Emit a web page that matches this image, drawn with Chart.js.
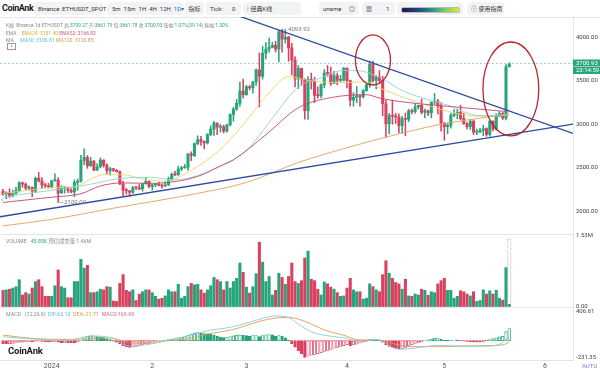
<!DOCTYPE html>
<html lang="zh">
<head>
<meta charset="UTF-8">
<title>ETHUSDT 1D</title>
<script src="https://cdn.jsdelivr.net/npm/chart.js@4"></script>
<style>
  body { margin:0; width:600px; height:373px; overflow:hidden; background:#fff; position:relative;
         font-family: Roboto, "Noto Sans CJK SC", sans-serif; color:#333; }
  .abs { position:absolute; white-space:nowrap; }
  .pill { position:absolute; top:2px; height:13px; background:#f2f3f5; border-radius:3px;
          font-size:6px; line-height:13px; color:#333; white-space:nowrap; }
  .lg { position:absolute; left:6px; font-size:6px; line-height:7px; color:#888; white-space:nowrap;
        transform-origin:0 50%; }
  .sep { position:absolute; left:0; width:600px; height:1px; background:#e6e6e6; }
  canvas { position:absolute; left:0; }
</style>
</head>
<body>

<!-- toolbar -->
<div class="abs" style="left:2px;top:2px;font-size:9px;font-weight:700;line-height:12px;color:#1b1b1b;letter-spacing:-0.4px">CoinAnk</div>
<div class="pill" style="left:34px;width:69px;padding-left:4px;box-sizing:border-box">Binance :ETHUSDT_SPOT</div>
<div class="pill" style="left:107px;width:76px;padding-left:5px;box-sizing:border-box">5m&nbsp; 15m&nbsp; 1H&nbsp; 4H&nbsp; 12H&nbsp; <span style="color:#2d6fd6">1D▾</span></div>
<div class="pill" style="left:185px;width:19px;text-align:center">指标</div>
<div class="pill" style="left:206px;width:35px;padding-left:4px;box-sizing:border-box">Tick:<span style="position:absolute;left:26px">0</span></div>
<div class="pill" style="left:243px;width:58px;padding-left:4px;box-sizing:border-box">⫶ 经典K线</div>
<div class="pill" style="left:319px;width:40px;padding-left:4px;box-sizing:border-box">uname<span style="position:absolute;left:30px">◎</span></div>
<div class="pill" style="left:362px;width:33px;padding-left:4px;box-sizing:border-box">▦<span style="position:absolute;left:24px">1</span></div>
<div class="pill" style="left:397px;width:66px">
  <div style="position:absolute;left:4px;top:4.5px;width:57px;height:4px;border-radius:2px;border:0.5px solid #bbb;background:linear-gradient(90deg,#1c1a4a,#233f7a,#2a8a8a,#7cc86a,#e6ea2a)"></div>
</div>
<div class="pill" style="left:467px;width:37px;padding-left:4px;box-sizing:border-box">ⓘ 使用指南</div>
<div class="sep" style="top:17px"></div>

<!-- panes -->
<canvas id="main" width="600" height="218" style="top:17px"></canvas>
<div class="sep" style="top:234px;width:573px"></div>
<div class="sep" style="top:307px;width:573px"></div>
<canvas id="vol" width="600" height="77" style="top:231px"></canvas>
<canvas id="macd" width="600" height="65" style="top:308px"></canvas>

<!-- legends -->
<div class="lg" style="top:20.5px;transform:scale(0.81)">K线&nbsp; Binance 1d ETHUSDT 高:<span style="color:#2aa57a">3709.27</span> 开:<span style="color:#2aa57a">3661.79</span> 低:<span style="color:#2aa57a">3661.78</span> 收:<span style="color:#2aa57a">3700.93</span> 涨幅:<span style="color:#2aa57a">1.07%(39.14)</span> 振幅:<span style="color:#2aa57a">1.30%</span></div>
<div class="lg" style="top:28.5px;transform:scale(0.83)">EMA&nbsp;&nbsp;&nbsp; <span style="color:#d8b23a">EMA24: 3151.40</span> <span style="color:#d25379">EMA52: 3166.82</span></div>
<div class="lg" style="top:35.5px;transform:scale(0.85)">MA&nbsp;&nbsp;&nbsp;&nbsp; <span style="color:#66c0c9">MA30: 3106.81</span> <span style="color:#d59a4c">MA120: 3120.85</span></div>
<div class="abs" style="left:7px;top:43px;width:7px;height:5px;border:0.6px solid #999;font-size:5px;line-height:6px;text-align:center;color:#666">^</div>
<div class="abs" style="left:1px;top:196px;font-size:7px;color:#777">‹</div>
<div class="lg" style="top:237px;transform:scale(0.88)">VOLUME&nbsp;&nbsp; <span style="color:#2aa57a">45.85K</span> 预估成交量:1.46M</div>
<div class="lg" style="top:309.5px;transform:scale(0.88)">MACD&nbsp;&nbsp; (12,26,9)&nbsp; <span style="color:#5fbccb">DIF:63.13</span>&nbsp; <span style="color:#e0913e">DEA:-21.71</span>&nbsp; <span style="color:#de5f86">MACD:169.69</span></div>
<div class="abs" style="left:8px;top:345px;font-size:9.5px;font-weight:700;line-height:12px;color:#1b1b1b;letter-spacing:-0.2px">CoinAnk</div>
<div class="abs" style="left:582px;top:362px;font-size:6px;color:#7d7fd3">AUTO</div>

<script>
// day 0 = 2024-01-01, first candle = 2023-12-17
const firstDay = -15;

const open = [2227,2196,2217,2177,2201,2238,2326,2311,2266,2272,2230,2379,2346,2300,2292,
  2281,2352,2355,2209,2268,2268,2239,2221,2331,2344,2584,2618,2523,2575,2472,2511,2588,2528,2467,2489,2471,2454,2313,2240,2234,2217,2268,2267,2257,2318,2343,
  2283,2303,2309,2297,2289,2301,2373,2424,2418,2486,2500,2506,2660,2641,2778,2824,2803,2786,2880,2944,3015,2967,2971,2922,2993,3112,3176,3242,3383,
  3340,3432,3420,3488,3627,3553,3818,3867,3887,3910,3866,4066,3980,4004,3881,3741,3523,3644,3520,3157,3516,3494,3334,3330,3454,3591,3587,3473,3561,3507,3507,
  3647,3505,3279,3311,3329,3317,3388,3454,3697,3505,3544,3504,3236,3006,3101,3094,3085,2985,3063,3057,3156,3147,3201,3219,3139,3156,3131,3256,3263,3214,
  3014,2973,2988,3103,3118,3137,3064,3007,2973,3036,2909,2912,2930,2950,2882,3037,2945,3093,3124,3071,3661.79];
const high = [2250,2222,2259,2243,2275,2340,2335,2324,2290,2280,2393,2445,2386,2320,2322,
  2353,2431,2385,2294,2278,2275,2260,2359,2370,2644,2717,2640,2620,2584,2546,2613,2591,2546,2505,2493,2480,2463,2346,2263,2236,2285,2282,2307,2320,2389,2350,
  2310,2319,2333,2311,2340,2393,2440,2457,2518,2515,2538,2664,2684,2787,2867,2862,2810,2895,2983,3033,3016,3000,2990,3003,3120,3196,3288,3486,3522,
  3450,3449,3495,3640,3822,3900,3940,3994,3945,3956,4085,4093.92,4083,4015,3932,3781,3677,3648,3525,3550,3590,3542,3433,3467,3630,3678,3660,3609,3590,3565,3655,
  3650,3510,3365,3435,3340,3400,3460,3730,3728,3560,3618,3553,3280,3127,3278,3125,3122,3093,3130,3173,3174,3240,3220,3291,3175,3165,3255,3355,3289,3250,
  3020,3016,3127,3170,3170,3220,3130,3020,3058,3052,2945,2955,2990,2960,3041,3040,3120,3147,3140,3689,3709.27];
const low = [2185,2143,2156,2165,2196,2220,2275,2245,2240,2165,2212,2335,2265,2270,2265,
  2265,2342,2100,2205,2206,2213,2210,2167,2240,2333,2534,2493,2515,2466,2468,2497,2505,2428,2415,2456,2450,2306,2168,2196,2172,2205,2247,2245,2230,2311,2268,
  2243,2281,2290,2265,2284,2295,2351,2409,2412,2464,2493,2471,2582,2627,2765,2756,2720,2772,2870,2871,2880,2910,2900,2910,2980,3035,3160,3206,3305,
  3335,3395,3360,3447,3200,3520,3752,3831,3880,3832,3720,3830,3935,3725,3570,3432,3412,3450,3060,3056,3405,3250,3300,3305,3420,3553,3447,3468,3455,3490,3498,
  3420,3210,3208,3250,3210,3300,3380,3425,3486,3407,3474,3100,2852,2890,3000,3010,2900,2900,2868,3030,3120,3128,3175,3120,3075,3100,3074,3230,3120,2920,
  2817,2890,2955,3088,3062,3050,3000,2943,2940,2882,2880,2903,2867,2862,2864,2925,2935,3092,3056,3050,3661.78];
const close = [2196,2217,2177,2201,2238,2326,2311,2266,2272,2230,2379,2346,2300,2292,2281,
  2352,2355,2209,2268,2268,2239,2221,2331,2344,2584,2618,2523,2575,2472,2511,2588,2528,2467,2489,2471,2454,2313,2240,2234,2217,2268,2267,2257,2318,2343,2283,
  2303,2309,2297,2289,2301,2373,2424,2418,2486,2500,2506,2660,2641,2778,2824,2803,2786,2880,2944,3015,2967,2971,2922,2993,3112,3176,3242,3383,3340,
  3432,3420,3488,3627,3553,3818,3867,3887,3910,3866,4066,3980,4004,3881,3741,3523,3644,3520,3157,3516,3494,3334,3330,3454,3591,3587,3473,3561,3507,3507,3647,
  3505,3279,3311,3329,3317,3388,3454,3697,3505,3544,3504,3236,3006,3101,3094,3085,2985,3063,3057,3156,3147,3201,3219,3139,3156,3131,3256,3263,3214,3014,
  2973,2988,3103,3118,3137,3064,3007,2973,3036,2909,2912,2930,2950,2882,3037,2945,3093,3124,3071,3661.79,3700.93];

// volume in millions
const volumeM = [0.35,0.36,0.375,0.40,0.43,0.58,0.25,0.30,0.27,0.40,0.54,0.58,0.43,0.22,0.22,
  0.22,0.45,0.79,0.43,0.40,0.19,0.19,0.54,0.54,1.02,0.83,0.89,0.30,0.30,0.32,0.375,0.36,0.43,0.42,0.12,0.11,0.50,0.69,0.35,0.32,0.36,0.13,0.27,0.32,0.36,0.36,
  0.30,0.22,0.16,0.18,0.23,0.36,0.32,0.32,0.48,0.18,0.22,0.43,0.50,0.47,0.48,0.36,0.29,0.36,0.45,0.63,0.58,0.54,0.36,0.54,0.40,0.54,0.61,0.94,0.74,
  0.42,0.29,0.43,0.71,1.39,0.96,0.54,0.65,0.25,0.35,0.72,0.63,0.48,0.65,0.94,0.54,0.50,0.56,1.05,1.20,0.59,0.56,0.375,0.25,0.53,0.49,0.42,0.375,0.30,0.22,0.23,
  0.40,0.61,0.36,0.32,0.32,0.16,0.18,0.49,0.43,0.36,0.32,0.69,0.99,0.72,0.61,0.52,0.49,0.375,0.59,0.23,0.22,0.27,0.25,0.375,0.35,0.245,0.32,0.30,0.49,0.56,
  0.61,0.35,0.35,0.18,0.22,0.34,0.32,0.27,0.23,0.32,0.11,0.13,0.36,0.27,0.34,0.27,0.35,0.18,0.14,0.84,0.046];
const predictedVolM = 1.46;

const macdHist = [-42,-46,-44,-38,-30,-22,-20,-18,-14,-16,-8,-6,-10,-14,-18,
  -16,-12,-22,-26,-24,-26,-27,-28,-14,10,40,62,66,68,56,50,44,30,14,-6,-22,-46,-70,-86,-92,-88,-78,-66,-52,-40,-28,
  -18,-10,-6,-2,6,16,24,30,40,46,54,78,88,104,112,110,100,94,90,78,60,50,44,50,58,66,74,80,76,
  70,62,70,72,56,72,82,86,80,62,70,64,40,10,-40,-90,-140,-180,-231.35,-215,-200,-190,-180,-165,-150,-135,-120,-105,-92,-80,-70,
  -56,-68,-60,-48,-34,-22,-10,14,12,10,4,-22,-60,-78,-92,-105,-115,-108,-92,-72,-56,-38,-24,-12,4,12,18,32,36,22,
  8,4,6,8,4,-2,-6,-10,-14,-18,-20,-20,-16,6,14,28,40,52,60,125,169.69];

const macdDays = [-15,-6,5,12,18,24,30,35,42,48,56,64,69,73,76,80,84,90,95,100,107,112,119,127,133,139,140,141];
const difVals  = [55,24,5,65,46,-74,-51,0,65,138,194,296,342,323,230,125,75,40,-5,18,-120,-102,-65,-77,-78,-28,20,63.13];
const deaVals  = [78,32,18,28,39,-28,-37,-3,26,91,157,268,314,323,300,230,150,75,12,14,-60,-83,-83,-74,-69,-58,-43,-21.71];

const ema24Days = [-15,-8,0,8,12,16,22,28,35,43,51,58,66,73,80,90,97,101,107,112,122,132,140,141];
const ema24Vals = [2205,2235,2270,2290,2370,2420,2420,2370,2345,2470,2680,2950,3320,3550,3500,3480,3490,3420,3330,3264,3150,3092,3110,3151.40];
const ema52Days = [-15,0,9,15,22,30,38,45,52,56,66,76,86,97,101,107,122,136,140,141];
const ema52Vals = [2100,2160,2200,2290,2325,2320,2340,2400,2520,2590,2880,3190,3307,3341,3303,3264,3207,3161,3150,3166.82];
const ma30Days = [-15,-5,5,12,20,30,38,45,52,60,66,76,83,90,95,102,108,112,122,132,141];
const ma30Vals = [2160,2215,2265,2310,2370,2390,2360,2410,2520,2700,2970,3430,3535,3620,3615,3520,3390,3330,3220,3100,3106.81];
const ma120Days = [-15,0,20,45,60,76,90,107,120,136,141];
const ma120Vals = [1830,1905,2040,2205,2330,2560,2720,2890,3000,3092,3120.85];

const upperTrendDays = [58, 160.65];
const upperTrendVals = [4243, 2896];
const lowerTrendDays = [-15.93, 160.65];
const lowerTrendVals = [1935, 3003];

// red ellipses: centre (day, price) and half sizes in days / price
const circles = [
  { day: 99.0, price: 3741, halfDays: 5.4, halfPrice: 288 },
  { day: 141.5, price: 3407, halfDays: 8.6, halfPrice: 541 }
];

const priceTicks = [2000, 2500, 3000, 3500, 4000];
const volTicks = [0, 1.53];
const macdTicks = [406.61, -231.35];
const monthTickDays = [0, 31, 60, 91, 121, 152];
const monthTickLabels = ['2024', '2', '3', '4', '5', '6'];
const clockText = '23:14:59';

// ---------------------------------------------------------------
Chart.defaults.font.family = 'Roboto, "Noto Sans CJK SC", sans-serif';
const UP = '#26a47b', DOWN = '#d9415f';
const xMin = -15.93, xMax = 160.65;
const days = close.map((_, i) => firstDay + i);
const lastClose = close[close.length - 1];
const candleColor = close.map((c, i) => c >= open[i] ? UP : DOWN);

function fixY(s) { s.width = 27; s.paddingTop = 0; s.paddingBottom = 0; }
const pts = (ds, vs) => ds.map((d, i) => ({ x: d, y: vs[i] }));
const maLine = (ds, vs, color, order) => ({
  type: 'line', data: pts(ds, vs), borderColor: color, borderWidth: 0.9,
  pointRadius: 0, cubicInterpolationMode: 'monotone', order: order
});
const baseOpts = {
  responsive: false, animation: false, devicePixelRatio: 1,
  layout: { padding: 0 },
  plugins: { legend: { display: false }, tooltip: { enabled: false } }
};
const rightAxis = (min, max, ticks, fmt) => ({
  position: 'right', min: min, max: max,
  grid: { display: false, drawTicks: false },
  border: { color: '#e3e3e3' },
  ticks: { font: { size: 6 }, color: '#444', padding: 3, callback: fmt },
  afterBuildTicks: s => { s.ticks = ticks.map(v => ({ value: v })); },
  afterFit: fixY
});

const mainOverlay = {
  id: 'mainOverlay',
  afterDatasetsDraw(chart) {
    const { ctx, chartArea: a, scales: { x, y } } = chart;
    ctx.save();
    ctx.beginPath(); ctx.rect(a.left, a.top, a.width, a.height); ctx.clip();
    ctx.strokeStyle = '#b5272c'; ctx.lineWidth = 1.3;
    circles.forEach(c => {
      const cx = x.getPixelForValue(c.day), cy = y.getPixelForValue(c.price);
      const rx = x.getPixelForValue(c.day + c.halfDays) - cx;
      const ry = cy - y.getPixelForValue(c.price + c.halfPrice);
      ctx.beginPath(); ctx.ellipse(cx, cy, rx, ry, 0, 0, Math.PI * 2); ctx.stroke();
    });
    // highest high / lowest low markers
    const hi = high.indexOf(Math.max(...high)), lo = low.indexOf(Math.min(...low));
    ctx.font = '6px Roboto'; ctx.fillStyle = '#777'; ctx.strokeStyle = '#999'; ctx.lineWidth = 0.7;
    ctx.textBaseline = 'middle';
    [[hi, high[hi]], [lo, low[lo]]].forEach(([i, v]) => {
      const px = x.getPixelForValue(days[i]) + 1, py = y.getPixelForValue(v);
      ctx.beginPath(); ctx.moveTo(px, py); ctx.lineTo(px + 4, py); ctx.stroke();
      ctx.fillText(v.toFixed(2), px + 5, py);
    });
    ctx.restore();
  },
  afterDraw(chart) {
    const { ctx, chartArea: a, scales: { y } } = chart;
    const py = Math.round(y.getPixelForValue(lastClose));
    ctx.save();
    ctx.fillStyle = '#2aa57a';
    ctx.fillRect(a.right, py - 3.5, 27, 7);
    ctx.fillRect(a.right, py + 4, 27, 7);
    ctx.fillStyle = '#fff'; ctx.font = '6px Roboto'; ctx.textBaseline = 'middle';
    ctx.fillText(lastClose.toFixed(2), a.right + 3, py);
    ctx.fillText(clockText, a.right + 3, py + 7.5);
    ctx.restore();
  }
};

new Chart(document.getElementById('main'), {
  type: 'bar',
  data: { datasets: [
    { data: days.map((d, i) => ({ x: d, y: [low[i], high[i]] })), backgroundColor: candleColor,
      barThickness: 0.9, grouped: false, order: 6 },
    { data: days.map((d, i) => ({ x: d, y: [open[i], close[i]] })), backgroundColor: candleColor,
      barThickness: 2.4, minBarLength: 1, grouped: false, order: 5 },
    maLine(ma120Days, ma120Vals, '#dca25c', 4),
    maLine(ema52Days, ema52Vals, '#c4466c', 4),
    maLine(ma30Days, ma30Vals, '#8fd2d6', 4),
    maLine(ema24Days, ema24Vals, '#e9d46a', 4),
    { type: 'line', data: [{ x: xMin, y: lastClose }, { x: xMax, y: lastClose }], borderColor: '#8cc4d0',
      borderWidth: 0.8, borderDash: [2, 2], pointRadius: 0, order: 3 },
    { type: 'line', data: pts(upperTrendDays, upperTrendVals), borderColor: '#2d4c9f', borderWidth: 1.3, pointRadius: 0, order: 1 },
    { type: 'line', data: pts(lowerTrendDays, lowerTrendVals), borderColor: '#2d4c9f', borderWidth: 1.3, pointRadius: 0, order: 1 }
  ]},
  options: Object.assign({}, baseOpts, {
    scales: {
      x: { type: 'linear', min: xMin, max: xMax, display: false, offset: false },
      y: rightAxis(1725, 4236, priceTicks, v => v.toFixed(2))
    }
  }),
  plugins: [mainOverlay]
});

const volOverlay = {
  id: 'volOverlay',
  afterDatasetsDraw(chart) {
    const { ctx, scales: { x, y } } = chart;
    const px = x.getPixelForValue(days[days.length - 1]);
    const y0 = y.getPixelForValue(0), y1 = y.getPixelForValue(predictedVolM);
    ctx.save();
    ctx.setLineDash([1.2, 1.2]); ctx.strokeStyle = '#9a9a9a'; ctx.lineWidth = 0.7;
    ctx.strokeRect(px - 1.5, y1, 3, y0 - y1);
    ctx.restore();
  }
};

new Chart(document.getElementById('vol'), {
  type: 'bar',
  data: { datasets: [
    { data: days.map((d, i) => ({ x: d, y: volumeM[i] })), backgroundColor: candleColor,
      barThickness: 2.4, grouped: false }
  ]},
  options: Object.assign({}, baseOpts, {
    scales: {
      x: { type: 'linear', min: xMin, max: xMax, display: false, offset: false },
      y: rightAxis(-0.032, 1.634, volTicks, v => v === 0 ? '0.00' : v.toFixed(2) + 'M')
    }
  }),
  plugins: [volOverlay]
});

// histogram: hollow when moving toward zero from the positive side, filled otherwise
const histFilled = macdHist.map((v, i) => {
  const prev = i ? macdHist[i - 1] : v;
  return v >= 0 ? v < prev : v <= prev;
});
const histColor = macdHist.map(v => v >= 0 ? UP : DOWN);

new Chart(document.getElementById('macd'), {
  type: 'bar',
  data: { datasets: [
    { data: days.map((d, i) => ({ x: d, y: macdHist[i] })),
      backgroundColor: histColor.map((c, i) => histFilled[i] ? c : '#ffffff'),
      borderColor: histColor, borderWidth: 0.8, borderSkipped: false,
      barThickness: 2.6, grouped: false, order: 3 },
    maLine(macdDays, deaVals, '#e39b55', 2),
    maLine(macdDays, difVals, '#86cfd8', 1)
  ]},
  options: Object.assign({}, baseOpts, {
    scales: {
      x: { type: 'linear', min: xMin, max: xMax, offset: false, position: 'bottom',
           grid: { display: false, drawTicks: false },
           border: { color: '#e3e3e3' },
           ticks: { font: { size: 7 }, color: '#555', padding: 2, maxRotation: 0, autoSkip: false,
                    callback: v => monthTickLabels[monthTickDays.indexOf(v)] },
           afterBuildTicks: s => { s.ticks = monthTickDays.map(v => ({ value: v })); },
           afterFit: s => { s.height = 13; s.paddingLeft = 0; s.paddingRight = 0; } },
      y: rightAxis(-267.7, 453.5, macdTicks, v => v.toFixed(2))
    }
  })
});
</script>
</body>
</html>
